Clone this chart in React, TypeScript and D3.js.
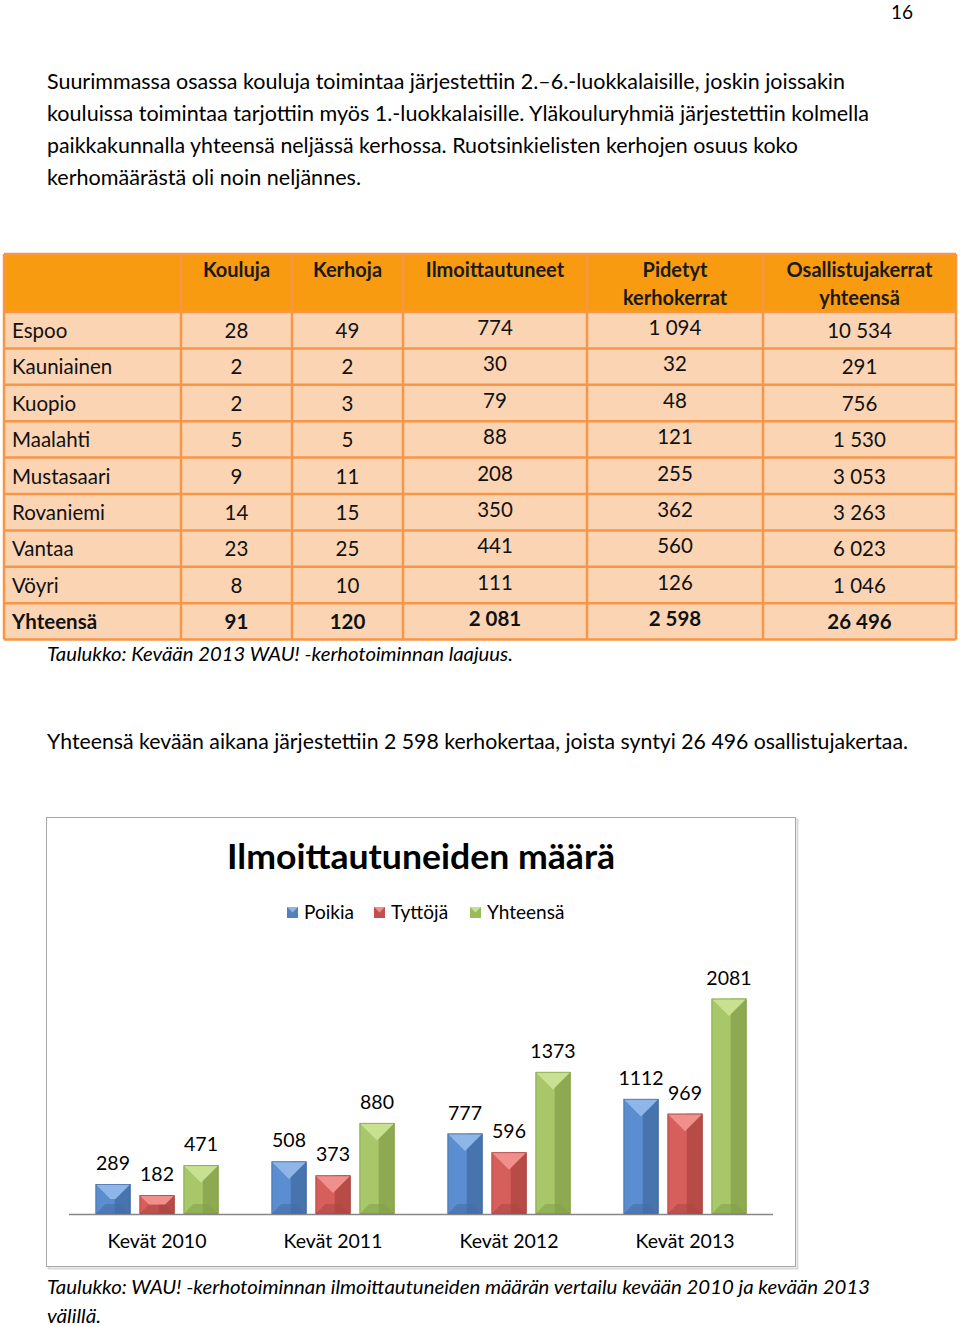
import React from "react";
import * as d3 from "d3";

// ---------- DATA ----------
const paragraphLines = [
  "Suurimmassa osassa kouluja toimintaa järjestettiin 2.–6.-luokkalaisille, joskin joissakin",
  "kouluissa toimintaa tarjottiin myös 1.-luokkalaisille. Yläkouluryhmiä järjestettiin kolmella",
  "paikkakunnalla yhteensä neljässä kerhossa. Ruotsinkielisten kerhojen osuus koko",
  "kerhomäärästä oli noin neljännes.",
];
const tableHeaders = [[""], ["Kouluja"], ["Kerhoja"], ["Ilmoittautuneet"], ["Pidetyt", "kerhokerrat"], ["Osallistujakerrat", "yhteensä"]];
const cities = ["Espoo", "Kauniainen", "Kuopio", "Maalahti", "Mustasaari", "Rovaniemi", "Vantaa", "Vöyri"];
const kouluja = [28, 2, 2, 5, 9, 14, 23, 8];
const kerhoja = [49, 2, 3, 5, 11, 15, 25, 10];
const ilmoittautuneet = [774, 30, 79, 88, 208, 350, 441, 111];
const pidetyt = [1094, 32, 48, 121, 255, 362, 560, 126];
const osallistujakerrat = [10534, 291, 756, 1530, 3053, 3263, 6023, 1046];
const totalLabel = "Yhteensä";
const totals = [91, 120, 2081, 2598, 26496];
const tableCaption = "Taulukko: Kevään 2013 WAU! -kerhotoiminnan laajuus.";
const sentence = "Yhteensä kevään aikana järjestettiin 2 598 kerhokertaa, joista syntyi 26 496 osallistujakertaa.";

const chartTitle = "Ilmoittautuneiden määrä";
const seasons = ["Kevät 2010", "Kevät 2011", "Kevät 2012", "Kevät 2013"];
const seriesNames = ["Poikia", "Tyttöjä", "Yhteensä"];
const poikia = [289, 508, 777, 1112];
const tyttoja = [182, 373, 596, 969];
const yhteensa = [471, 880, 1373, 2081];
const chartCaption = [
  "Taulukko: WAU! -kerhotoiminnan ilmoittautuneiden määrän vertailu kevään 2010 ja kevään 2013",
  "välillä.",
];

// ---------- STYLE ----------
const FONT = "Lato, 'Open Sans', 'Noto Sans', sans-serif";
const ORANGE_BORDER = "#F79646";
const HEADER_FILL = "#F99B10";
const ROW_FILL = "#FBD4B4";
const palettes = [
  { top: "#8FB6E8", left: "#5B8ED0", right: "#4874AE", bottom: "#436DA3", edge: "#3D6499", legend: "#4F81BD" },
  { top: "#F08F8C", left: "#D65F5C", right: "#B74B48", bottom: "#AE4643", edge: "#9B3D3A", legend: "#C0504D" },
  { top: "#C8E190", left: "#A7C769", right: "#8DAA52", bottom: "#86A24C", edge: "#7A9443", legend: "#9BBB59" },
];

const fmtSpace = (v: number) => d3.format(",")(v).replace(/,/g, " ");

export default function App() {
  // ---- table geometry ----
  const colEdges = [4, 181, 292, 403, 587, 763, 956];
  const tableTop = 254;
  const headerBottom = 312;
  const rowH = 36.4;
  const nRows = cities.length + 1;
  const tableBottom = headerBottom + rowH * nRows;
  const colCenter = (i: number) => (colEdges[i] + colEdges[i + 1]) / 2;
  const rowsData = cities.map((c, i) => [kouluja[i], kerhoja[i], ilmoittautuneet[i], pidetyt[i], osallistujakerrat[i]]);
  const numOffset = [0, 0, -3, -3, 0];

  // ---- chart scales ----
  const x0 = d3.scaleBand<string>().domain(seasons).range([69, 773]).padding(0);
  const x1 = d3.scaleBand<string>().domain(seriesNames).range([26.5, 149.5]).paddingInner(0.2045).paddingOuter(0);
  const y = d3.scaleLinear().domain([0, 2500]).range([1214, 1214 - 2500 * 0.1035]);
  const seriesValues = [poikia, tyttoja, yhteensa];

  const bars: React.ReactNode[] = [];
  seasons.forEach((s, gi) => {
    seriesNames.forEach((sn, si) => {
      const v = seriesValues[si][gi];
      const xl = (x0(s) as number) + (x1(sn) as number);
      const w = x1.bandwidth();
      const xr = xl + w;
      const yt = y(v);
      const yb = y(0);
      const h = yb - yt;
      const d = Math.min(w / 2, h / 2);
      const db = Math.min(w / 2, h / 2, 10);
      const p = palettes[si];
      const cx = xl + w * 0.55;
      const il = xl + d, ir = xr - d, it = yt + d;
      bars.push(
        <g key={`${s}-${sn}`}>
          <rect x={xl} y={yt} width={w} height={h} fill={p.left} />
          <polygon points={`${cx},${yt} ${xr},${yt} ${xr},${yb} ${cx},${yb}`} fill={p.right} />
          <polygon points={`${xl + db},${yb - db} ${xr - db},${yb - db} ${xr},${yb} ${xl},${yb}`} fill={p.bottom} opacity={0.6} />
          <polygon points={`${xl},${yt} ${xr},${yt} ${ir},${it} ${il},${it}`} fill={p.top} />
          <rect x={xl + 0.4} y={yt + 0.4} width={w - 0.8} height={h - 0.8} fill="none" stroke={p.edge} strokeWidth={0.8} opacity={0.8} />
          <text x={(xl + xr) / 2} y={yt - 14} textAnchor="middle" fontSize={19.5} fill="#000">{v}</text>
        </g>
      );
    });
  });

  return (
    <svg width={960} height={1327} style={{ position: "absolute", left: 0, top: 0, background: "#fff" }} fontFamily={FONT}>
      <rect x={0} y={0} width={960} height={1327} fill="#fff" />
      {/* page number */}
      <text x={913} y={19} textAnchor="end" fontSize={19}>16</text>

      {/* paragraph */}
      {paragraphLines.map((l, i) => (
        <text key={i} x={47} y={89 + i * 32} fontSize={20.5} textLength={[798, 822, 751, 314][i]} lengthAdjust="spacingAndGlyphs">{l}</text>
      ))}

      {/* table */}
      <rect x={colEdges[0]} y={tableTop} width={colEdges[6] - colEdges[0]} height={headerBottom - tableTop} fill={HEADER_FILL} />
      <rect x={colEdges[0]} y={headerBottom} width={colEdges[6] - colEdges[0]} height={tableBottom - headerBottom} fill={ROW_FILL} />
      {d3.range(nRows + 1).map((r) => (
        <line key={`h${r}`} x1={colEdges[0]} x2={colEdges[6]} y1={headerBottom + r * rowH} y2={headerBottom + r * rowH} stroke={ORANGE_BORDER} strokeWidth={2.5} />
      ))}
      <line x1={colEdges[0]} x2={colEdges[6]} y1={tableTop} y2={tableTop} stroke={ORANGE_BORDER} strokeWidth={2.5} />
      {colEdges.map((cx, i) => (
        <line key={`v${i}`} x1={cx} x2={cx} y1={tableTop} y2={tableBottom} stroke={ORANGE_BORDER} strokeWidth={2.5} />
      ))}
      {tableHeaders.map((lines, ci) =>
        lines.map((t, li) => (
          <text key={`th${ci}-${li}`} x={colCenter(ci)} y={277 + li * 28} textAnchor="middle" fontSize={20} fontWeight={700} fill="#1a1a1a">{t}</text>
        ))
      )}
      {cities.map((c, ri) => {
        const by = headerBottom + ri * rowH + 26;
        return (
          <g key={c}>
            <text x={12} y={by} fontSize={20.5} fill="#111">{c}</text>
            {rowsData[ri].map((v, ci) => (
              <text key={ci} x={colCenter(ci + 1)} y={by + numOffset[ci]} textAnchor="middle" fontSize={20.5} fill="#111">{fmtSpace(v)}</text>
            ))}
          </g>
        );
      })}
      {(() => {
        const by = headerBottom + cities.length * rowH + 26;
        return (
          <g>
            <text x={12} y={by} fontSize={20.5} fontWeight={700} fill="#111">{totalLabel}</text>
            {totals.map((v, ci) => (
              <text key={ci} x={colCenter(ci + 1)} y={by + numOffset[ci]} textAnchor="middle" fontSize={20.5} fontWeight={700} fill="#111">{fmtSpace(v)}</text>
            ))}
          </g>
        );
      })()}
      <text x={47} y={661} fontSize={20} fontStyle="italic" textLength={466} lengthAdjust="spacingAndGlyphs">{tableCaption}</text>

      <text x={47} y={749} fontSize={20.5} textLength={861} lengthAdjust="spacingAndGlyphs">{sentence}</text>

      {/* chart frame */}
      <rect x={48.5} y={819.5} width={749} height={449} fill="none" stroke="#d9d9d9" strokeWidth={2} />
      <rect x={46.5} y={817.5} width={749} height={449} fill="#fff" stroke="#a6a6a6" strokeWidth={1} />
      <text x={421} y={869} textAnchor="middle" fontSize={34} fontWeight={700} textLength={388} lengthAdjust="spacingAndGlyphs">{chartTitle}</text>

      {/* legend */}
      {seriesNames.map((sn, i) => {
        const lx = [287, 374, 470][i];
        return (
          <g key={sn}>
            <rect x={lx} y={907} width={11} height={11} fill={palettes[i].legend} />
            <polygon points={`${lx},907 ${lx + 11},907 ${lx + 5.5},912.5`} fill={palettes[i].top} />
            <text x={lx + 17} y={919} fontSize={19}>{sn}</text>
          </g>
        );
      })}

      {/* bars */}
      {bars}

      {/* axis line */}
      <line x1={x0.range()[0]} x2={x0.range()[1]} y1={y(0) + 0.5} y2={y(0) + 0.5} stroke="#868686" strokeWidth={1.5} />
      {seasons.map((s) => (
        <text key={s} x={(x0(s) as number) + x0.bandwidth() / 2} y={1248} textAnchor="middle" fontSize={19.5}>{s}</text>
      ))}

      {/* chart caption */}
      {chartCaption.map((l, i) => (
        <text key={i} x={47} y={1294 + i * 29} fontSize={20} fontStyle="italic" textLength={[823, 54][i]} lengthAdjust="spacingAndGlyphs">{l}</text>
      ))}
    </svg>
  );
}
